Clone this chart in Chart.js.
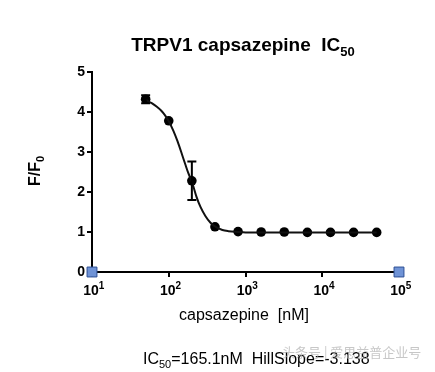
<!DOCTYPE html>
<html>
<head>
<meta charset="utf-8">
<script src="https://cdn.jsdelivr.net/npm/chart.js@4/dist/chart.umd.min.js"></script>
<style>
html,body{margin:0;padding:0;background:#fff;}
#c{display:block;}
</style>
</head>
<body>
<canvas id="c" width="435" height="372"></canvas>
<script>
// ---- data ----
const concentrations = [50, 100, 200, 400, 800, 1600, 3200, 6400, 12800, 25600, 51200];
const responses      = [4.32, 3.78, 2.28, 1.13, 1.01, 1.00, 1.00, 0.99, 0.99, 0.99, 0.99];
const errors         = [0.10, 0, 0.48, 0, 0, 0, 0, 0, 0, 0, 0];
const fitX = [50, 60, 70, 80, 90, 100, 115, 130, 150, 165, 180, 200, 230, 260, 300, 350, 400, 500, 600, 800, 1000, 1600, 3200, 51200];
const fitY = [4.31, 4.22, 4.13, 4.03, 3.91, 3.77, 3.53, 3.27, 2.92, 2.68, 2.47, 2.26, 1.88, 1.62, 1.40, 1.23, 1.14, 1.05, 1.02, 1.00, 0.99, 0.99, 0.99, 0.99];
const endMarkersX = [10, 100000];
const endMarkersY = [0, 0];
const xTickValues = [10, 100, 1000, 10000, 100000];
const xTickExponents = ['1', '2', '3', '4', '5'];
const yTickValues = [0, 1, 2, 3, 4, 5];

const FONT = '"Liberation Sans", Arial, sans-serif';

function drawSubText(ctx, parts, x, y, align) {
  let total = 0;
  parts.forEach(p => { ctx.font = (p.bold ? 'bold ' : '') + p.size + 'px ' + FONT; p.w = ctx.measureText(p.t).width; total += p.w; });
  let cx = align === 'center' ? x - total / 2 : x;
  parts.forEach(p => {
    ctx.font = (p.bold ? 'bold ' : '') + p.size + 'px ' + FONT;
    ctx.textAlign = 'left';
    ctx.textBaseline = 'alphabetic';
    ctx.fillText(p.t, cx, y + (p.dy || 0));
    cx += p.w;
  });
}

const decorPlugin = {
  id: 'decor',
  afterDatasetsDraw(chart) {
    const ctx = chart.ctx;
    const xs = chart.scales.x, ys = chart.scales.y;
    ctx.save();
    ctx.strokeStyle = '#000';
    ctx.lineWidth = 2;
    concentrations.forEach((c, i) => {
      if (!errors[i]) return;
      const px = xs.getPixelForValue(c);
      const top = ys.getPixelForValue(responses[i] + errors[i]);
      const bot = ys.getPixelForValue(responses[i] - errors[i]);
      ctx.beginPath();
      ctx.moveTo(px, top); ctx.lineTo(px, bot);
      ctx.moveTo(px - 4.5, top); ctx.lineTo(px + 4.5, top);
      ctx.moveTo(px - 4.5, bot); ctx.lineTo(px + 4.5, bot);
      ctx.stroke();
    });
    ctx.restore();
  },
  afterDraw(chart) {
    const ctx = chart.ctx;
    const xs = chart.scales.x;
    ctx.save();
    ctx.fillStyle = '#000';
    // title
    drawSubText(ctx, [
      {t: 'TRPV1 capsazepine  IC', size: 19, bold: true},
      {t: '50', size: 13, bold: true, dy: 5}
    ], 243, 51, 'center');
    // x tick labels
    xTickValues.forEach((v, i) => {
      const px = xs.getPixelForValue(v);
      ctx.font = 'bold 14px ' + FONT;
      const w = ctx.measureText('10').width;
      ctx.textAlign = 'left';
      ctx.fillText('10', px - w / 2 - 1, 295);
      ctx.font = 'bold 10px ' + FONT;
      ctx.fillText(xTickExponents[i], px + w / 2 - 1, 289);
    });
    // x title
    ctx.font = '16px ' + FONT;
    ctx.textAlign = 'center';
    ctx.fillText('capsazepine  [nM]', 244, 320);
    // y title
    ctx.save();
    ctx.translate(40, 171);
    ctx.rotate(-Math.PI / 2);
    drawSubText(ctx, [
      {t: 'F/F', size: 16, bold: true},
      {t: '0', size: 11, bold: true, dy: 4}
    ], 0, 0, 'center');
    ctx.restore();
    // bottom fit text
    drawSubText(ctx, [
      {t: 'IC', size: 16},
      {t: '50', size: 11, dy: 4},
      {t: '=165.1nM  HillSlope=-3.138', size: 16}
    ], 143, 364, 'left');
    // watermark
    ctx.fillStyle = 'rgba(175,175,175,0.7)';
    ctx.font = '13px "Noto Sans CJK SC", sans-serif';
    ctx.textAlign = 'left';
    ctx.fillText('头条号 | 爱思益普企业号', 282, 357);
    ctx.restore();
  }
};

new Chart(document.getElementById('c'), {
  type: 'scatter',
  data: {
    datasets: [
      {
        data: fitX.map((x, i) => ({x: x, y: fitY[i]})),
        showLine: true,
        borderColor: '#111',
        borderWidth: 2,
        pointRadius: 0,
        cubicInterpolationMode: 'monotone',
        fill: false
      },
      {
        data: concentrations.map((x, i) => ({x: x, y: responses[i]})),
        showLine: false,
        pointRadius: 4.8,
        pointBackgroundColor: '#000',
        pointBorderColor: '#000',
        pointBorderWidth: 0
      },
      {
        data: endMarkersX.map((x, i) => ({x: x, y: endMarkersY[i]})),
        showLine: false,
        pointStyle: 'rect',
        pointRadius: 7,
        pointBackgroundColor: '#6f93d6',
        pointBorderColor: '#2c4f94',
        pointBorderWidth: 1,
        clip: false
      }
    ]
  },
  options: {
    responsive: false,
    animation: false,
    events: [],
    layout: {padding: {left: 0, right: 36, top: 72, bottom: 0}},
    plugins: {legend: {display: false}, tooltip: {enabled: false}, title: {display: false}},
    scales: {
      x: {
        type: 'logarithmic',
        min: 10, max: 100000,
        afterBuildTicks(scale) { scale.ticks = xTickValues.map(v => ({value: v})); },
        afterFit(scale) { scale.height = 100; },
        ticks: {display: false},
        grid: {drawOnChartArea: false, drawTicks: true, tickLength: 5, color: '#000', lineWidth: 2},
        border: {display: true, color: '#000', width: 2}
      },
      y: {
        min: 0, max: 5,
        afterBuildTicks(scale) { scale.ticks = yTickValues.map(v => ({value: v})); },
        afterFit(scale) { scale.width = 92; },
        ticks: {color: '#000', font: {family: FONT, size: 14, weight: 'bold'}, padding: 2},
        grid: {drawOnChartArea: false, drawTicks: true, tickLength: 5, color: '#000', lineWidth: 2},
        border: {display: true, color: '#000', width: 2}
      }
    }
  },
  plugins: [decorPlugin]
});
</script>
</body>
</html>
